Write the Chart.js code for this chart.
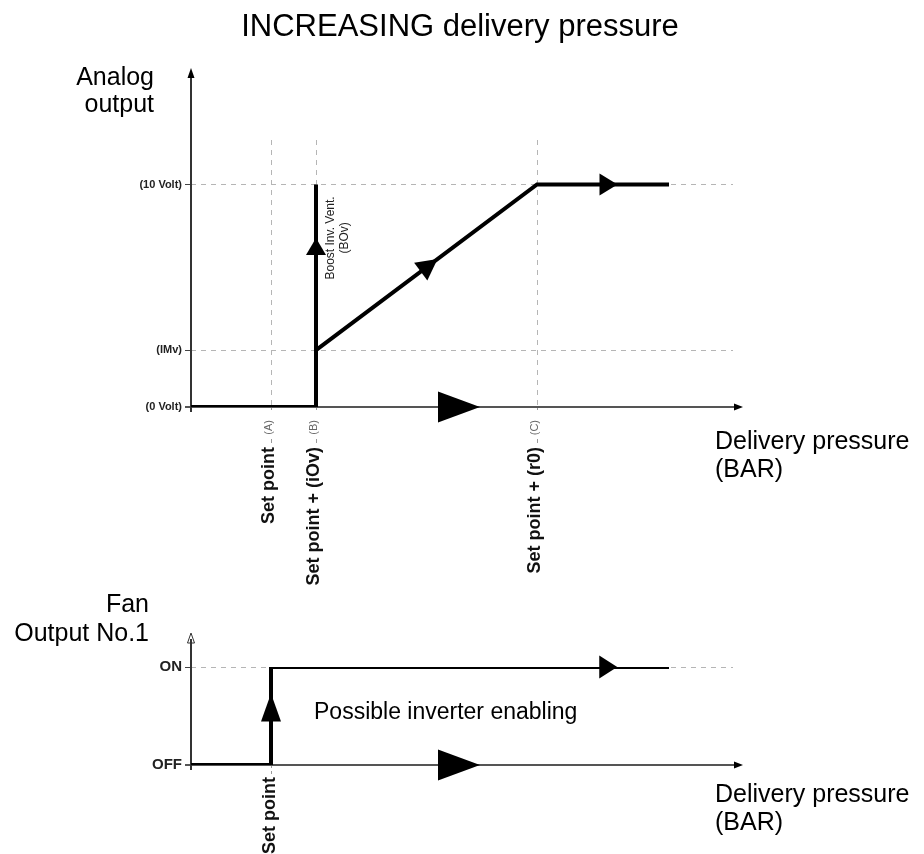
<!DOCTYPE html>
<html><head><meta charset="utf-8">
<script src="https://cdn.jsdelivr.net/npm/chart.js@4"></script>
<style>
html,body{margin:0;padding:0;background:#fff;}
#wrap{position:relative;width:924px;height:854px;overflow:hidden;background:#fff;}
canvas{position:absolute;left:0;}
</style></head><body>
<div id="wrap">
<canvas id="topChart" width="924" height="590" style="top:0"></canvas>
<canvas id="botChart" width="924" height="264" style="top:590px"></canvas>
</div>
<script>
const FONT = '"Liberation Sans", Arial, Helvetica, sans-serif';

// ---- Top chart (analog output) ----
const topTickValues = [2.0, 3.125, 8.65];
const topTickLabels = ['Set point', 'Set point + (iOv)', 'Set point + (r0)'];
const topTickTags = ['(A)', '(B)', '(C)'];
const topYValues = [0, 2.56, 10];
const topYLabels = ['(0 Volt)', '(IMv)', '(10 Volt)'];
const boostX = [0, 3.125, 3.125];
const boostY = [0, 0, 10];
const rampX = [3.125, 8.65, 11.95];
const rampY = [2.56, 10, 10];
const topYMax = 12;

// ---- Bottom chart (fan output) ----
const botTickValues = [2.0];
const botTickLabels = ['Set point'];
const botYValues = [0, 1];
const botYLabels = ['OFF', 'ON'];
const fanX = [0, 2.0, 2.0, 11.95];
const fanY = [0, 0, 1, 1];

const xRange = [0, 13.55];
const bigArrowX = [6.175, 7.225]; // direction marker on the pressure axis

function pts(xs, ys) { return xs.map((x, i) => ({x: x, y: ys[i]})); }

function tri(ctx, tx, ty, ang, len, hw, fill) {
  ctx.save();
  ctx.translate(tx, ty); ctx.rotate(ang);
  ctx.beginPath(); ctx.moveTo(0, 0); ctx.lineTo(-len, -hw); ctx.lineTo(-len, hw); ctx.closePath();
  if (fill === false) { ctx.lineWidth = 1; ctx.strokeStyle = '#333'; ctx.stroke(); }
  else { ctx.fillStyle = '#000'; ctx.fill(); }
  ctx.restore();
}
function segArrow(chart, ds, seg, t, len, hw) {
  const d = chart.getDatasetMeta(ds).data;
  const p0 = d[seg], p1 = d[seg + 1];
  const tx = p0.x + (p1.x - p0.x) * t, ty = p0.y + (p1.y - p0.y) * t;
  tri(chart.ctx, tx, ty, Math.atan2(p1.y - p0.y, p1.x - p0.x), len, hw);
}
function vText(ctx, text, x, yEnd, font, color) {
  ctx.save();
  ctx.translate(x, yEnd); ctx.rotate(-Math.PI / 2);
  ctx.font = font; ctx.fillStyle = color;
  ctx.textAlign = 'right'; ctx.textBaseline = 'middle';
  ctx.fillText(text, 0, 0);
  ctx.restore();
}
function drawAxes(chart, yTop, xEnd, hollow) {
  const ctx = chart.ctx;
  const xs = chart.scales.x, ys = chart.scales.y;
  const x0 = xs.getPixelForValue(0), y0 = ys.getPixelForValue(0);
  ctx.save();
  ctx.lineCap = 'butt';
  ctx.strokeStyle = '#555'; ctx.lineWidth = 2;
  ctx.beginPath(); ctx.moveTo(x0 - 6, y0); ctx.lineTo(xEnd - 6, y0); ctx.stroke();
  ctx.fillStyle = '#222';
  tri(ctx, xEnd, y0, 0, 9, 3.5);
  ctx.strokeStyle = '#333'; ctx.lineWidth = 2;
  ctx.beginPath(); ctx.moveTo(x0, y0 + 5); ctx.lineTo(x0, yTop + 6); ctx.stroke();
  tri(ctx, x0, yTop, -Math.PI / 2, 10, 3.5, hollow ? false : true);
  ctx.restore();
}
function baseScales(yMax, tickVals, yVals, yLabels, yFont, xHeight, tickLen) {
  return {
    x: {
      type: 'linear', min: xRange[0], max: xRange[1], position: 'bottom',
      afterBuildTicks: s => { s.ticks = tickVals.map(v => ({value: v})); },
      afterFit: s => { s.height = xHeight; },
      ticks: {display: false},
      grid: {color: '#b5b5b5', lineWidth: 1, drawTicks: true, tickLength: tickLen, tickColor: '#999', tickBorderDash: [3, 3]},
      border: {display: false, dash: [5, 5]}
    },
    y: {
      type: 'linear', min: 0, max: yMax, position: 'left',
      afterBuildTicks: s => { s.ticks = yVals.map(v => ({value: v})); },
      afterFit: s => { s.width = 191; },
      ticks: {
        callback: (v, i) => yLabels[i],
        font: yFont, color: '#222', padding: 3, autoSkip: false
      },
      grid: {color: '#b5b5b5', lineWidth: 1, drawTicks: true, tickLength: 6, tickColor: '#444'},
      border: {display: false, dash: [5, 5]}
    }
  };
}
const lineStyle = {borderColor: '#000', borderWidth: 4, pointRadius: 0, tension: 0, fill: false,
  borderJoinStyle: 'miter', borderCapStyle: 'butt'};

// ---------- TOP CHART ----------
const topPlugin = {
  id: 'topDeco',
  beforeDatasetsDraw(chart) { drawAxes(chart, 68, 743, false); },
  afterDatasetsDraw(chart) {
    const ctx = chart.ctx, xs = chart.scales.x, ys = chart.scales.y;
    // direction arrows on the curve
    segArrow(chart, 0, 1, 0.76, 17, 10);
    segArrow(chart, 1, 0, 0.55, 21, 11);
    segArrow(chart, 1, 1, 0.61, 18, 11);
    const y0 = ys.getPixelForValue(0);
    tri(ctx, xs.getPixelForValue(bigArrowX[1]), y0, 0, xs.getPixelForValue(bigArrowX[1]) - xs.getPixelForValue(bigArrowX[0]), 15.5);
    // x labels
    topTickValues.forEach((v, i) => {
      const px = xs.getPixelForValue(v) - 2;
      vText(ctx, topTickTags[i], px, y0 + 13, '11px ' + FONT, '#666');
      ctx.save(); ctx.strokeStyle = '#999'; ctx.lineWidth = 1;
      ctx.beginPath(); ctx.moveTo(px + 2.5, y0 + 32); ctx.lineTo(px + 2.5, y0 + 36); ctx.stroke(); ctx.restore();
      vText(ctx, topTickLabels[i], px, y0 + 40, 'bold 18px ' + FONT, '#111');
    });
    // Boost label
    ctx.save();
    ctx.translate(xs.getPixelForValue(boostX[1]) + 22, ys.getPixelForValue(7.6));
    ctx.rotate(-Math.PI / 2);
    ctx.font = '12px ' + FONT; ctx.fillStyle = '#222'; ctx.textAlign = 'center'; ctx.textBaseline = 'middle';
    ctx.fillText('Boost Inv. Vent.', 0, -7);
    ctx.fillText('(BOv)', 0, 7);
    ctx.restore();
    // texts
    ctx.save();
    ctx.fillStyle = '#000';
    ctx.font = '31px ' + FONT; ctx.textAlign = 'center'; ctx.textBaseline = 'alphabetic';
    ctx.fillText('INCREASING delivery pressure', 460, 36);
    ctx.font = '25px ' + FONT; ctx.textAlign = 'right';
    ctx.fillText('Analog', 154, 85);
    ctx.fillText('output', 154, 112);
    ctx.textAlign = 'left';
    ctx.fillText('Delivery pressure', 715, 449);
    ctx.fillText('(BAR)', 715, 477);
    ctx.restore();
  }
};

new Chart(document.getElementById('topChart'), {
  type: 'line',
  data: {datasets: [
    Object.assign({label: 'Boost', data: pts(boostX, boostY)}, lineStyle),
    Object.assign({label: 'Analog output', data: pts(rampX, rampY)}, lineStyle)
  ]},
  options: {
    responsive: false, animation: false, devicePixelRatio: 1,
    layout: {padding: {left: 0, right: 191, top: 140, bottom: 0}},
    plugins: {legend: {display: false}, tooltip: {enabled: false}, title: {display: false}},
    scales: baseScales(topYMax, topTickValues, topYValues, topYLabels, {size: 11, weight: 'bold', family: FONT}, 590 - 407, 6)
  },
  plugins: [topPlugin]
});

// ---------- BOTTOM CHART ----------
const botPlugin = {
  id: 'botDeco',
  beforeDatasetsDraw(chart) { drawAxes(chart, 43, 743, true); },
  afterDatasetsDraw(chart) {
    const ctx = chart.ctx, xs = chart.scales.x, ys = chart.scales.y;
    segArrow(chart, 0, 1, 0.73, 28, 10);
    segArrow(chart, 0, 2, 0.87, 18, 11.5);
    const y0 = ys.getPixelForValue(0);
    tri(ctx, xs.getPixelForValue(bigArrowX[1]), y0, 0, xs.getPixelForValue(bigArrowX[1]) - xs.getPixelForValue(bigArrowX[0]), 15.5);
    botTickValues.forEach((v, i) => {
      vText(ctx, botTickLabels[i], xs.getPixelForValue(v) - 1, y0 + 12, 'bold 18px ' + FONT, '#111');
    });
    ctx.save();
    ctx.fillStyle = '#000';
    ctx.font = '23px ' + FONT; ctx.textAlign = 'left';
    ctx.fillText('Possible inverter enabling', 314, 129);
    ctx.font = '25px ' + FONT; ctx.textAlign = 'right';
    ctx.fillText('Fan', 149, 22);
    ctx.fillText('Output No.1', 149, 51);
    ctx.textAlign = 'left';
    ctx.fillText('Delivery pressure', 715, 212);
    ctx.fillText('(BAR)', 715, 240);
    ctx.restore();
  }
};

new Chart(document.getElementById('botChart'), {
  type: 'line',
  data: {datasets: [
    Object.assign({label: 'Fan output', data: pts(fanX, fanY)}, lineStyle)
  ]},
  options: {
    responsive: false, animation: false, devicePixelRatio: 1,
    layout: {padding: {left: 0, right: 191, top: 77, bottom: 0}},
    plugins: {legend: {display: false}, tooltip: {enabled: false}, title: {display: false}},
    scales: baseScales(1, botTickValues, botYValues, botYLabels, {size: 15, weight: 'bold', family: FONT}, 264 - 175, 10)
  },
  plugins: [botPlugin]
});
</script>
</body></html>
